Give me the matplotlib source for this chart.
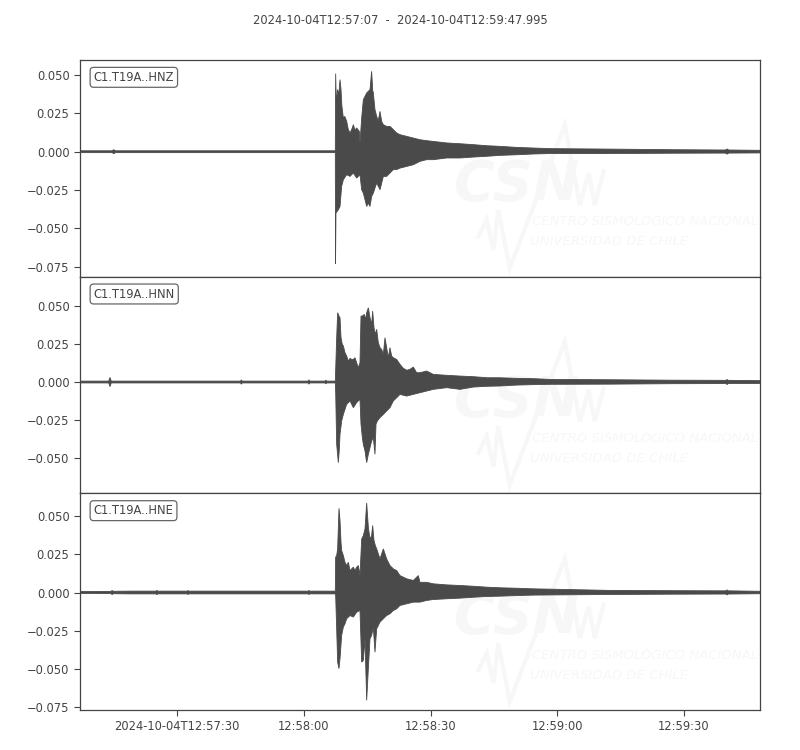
import numpy as np
import matplotlib
matplotlib.use("Agg")
import matplotlib.pyplot as plt
import matplotlib.dates as mdates
from matplotlib.ticker import MultipleLocator, FixedLocator, FixedFormatter

# ---------------- data ----------------
start_str = "2024-10-04T12:57:07"
end_str = "2024-10-04T12:59:47.995"
channels = ["C1.T19A..HNZ", "C1.T19A..HNN", "C1.T19A..HNE"]

tick_times = ["2024-10-04T12:57:30", "2024-10-04T12:58:00", "2024-10-04T12:58:30",
              "2024-10-04T12:59:00", "2024-10-04T12:59:30"]
tick_labels = ["2024-10-04T12:57:30", "12:58:00", "12:58:30", "12:59:00", "12:59:30"]

# envelopes: (seconds after start, amplitude)
hnz_upper = [(0, 0.0006), (7.6, 0.0006), (8.0, 0.0013), (8.4, 0.0006), (60.45, 0.0006),
             (60.53, 0.0509), (60.70, 0.0300), (60.95, 0.0405), (61.3, 0.0380), (61.56, 0.0470),
             (61.8, 0.0405), (62.0, 0.0300), (62.35, 0.0220), (62.7, 0.0230), (63.14, 0.0198),
             (63.53, 0.0144), (63.93, 0.0122), (64.4, 0.0150), (64.72, 0.0176), (65.1, 0.0140),
             (65.50, 0.0155), (66.13, 0.0133), (66.29, 0.0057), (66.69, 0.0220), (67.08, 0.0339),
             (67.48, 0.0361), (67.87, 0.0383), (68.27, 0.0394), (68.66, 0.0405), (69.05, 0.0524),
             (69.3, 0.0400), (69.45, 0.0383), (69.84, 0.0274), (70.24, 0.0231), (70.6, 0.0200),
             (71.03, 0.0263), (71.42, 0.0198), (71.82, 0.0176), (72.60, 0.0165), (73.39, 0.0165),
             (74.18, 0.0144), (74.97, 0.0122), (75.76, 0.0111), (77.34, 0.0100), (78.92, 0.0089),
             (80.49, 0.0078), (82.07, 0.0072), (83.65, 0.0067), (86.81, 0.0057), (89.96, 0.0052),
             (93.12, 0.0046), (96.27, 0.0039), (99.43, 0.0035), (103.38, 0.0028), (107.32, 0.0024),
             (111.27, 0.0020), (124.8, 0.0017), (140.4, 0.0013), (152.8, 0.0011), (153.2, 0.0018),
             (153.6, 0.0011), (161.0, 0.0009)]
hnz_lower = [(0, -0.0006), (7.6, -0.0006), (8.0, -0.0013), (8.4, -0.0006), (60.45, -0.0006),
             (60.50, -0.0731), (60.60, -0.0400), (61.16, -0.0379), (61.56, -0.0357), (61.95, -0.0226),
             (62.35, -0.0183), (63.14, -0.0150), (63.93, -0.0161), (64.72, -0.0139), (65.50, -0.0172),
             (66.29, -0.0150), (66.69, -0.0248), (67.08, -0.0270), (67.48, -0.0313), (67.87, -0.0357),
             (68.27, -0.0335), (68.66, -0.0357), (69.05, -0.0292), (69.45, -0.0270), (70.24, -0.0204),
             (71.03, -0.0248), (71.82, -0.0161), (72.60, -0.0161), (73.39, -0.0139), (74.18, -0.0117),
             (74.97, -0.0117), (75.76, -0.0107), (77.34, -0.0096), (78.92, -0.0085), (80.49, -0.0063),
             (82.07, -0.0052), (83.65, -0.0052), (86.81, -0.0041), (89.96, -0.0041), (93.12, -0.0035),
             (96.27, -0.0030), (99.43, -0.0024), (103.38, -0.0020), (107.32, -0.0015), (111.27, -0.0012),
             (124.8, -0.0012), (140.4, -0.0010), (152.8, -0.0009), (153.2, -0.0016), (153.6, -0.0009),
             (161.0, -0.0008)]

hnn_upper = [(0, 0.0006), (6.8, 0.0006), (7.1, 0.0030), (7.4, 0.0006), (38.0, 0.0006), (38.2, 0.0014),
             (38.4, 0.0006), (54.0, 0.0006), (54.2, 0.0014), (54.4, 0.0006), (58.0, 0.0006), (58.2, 0.0012),
             (58.4, 0.0006), (60.45, 0.0006),
             (60.77, 0.0290), (61.0, 0.0454), (61.32, 0.0432), (61.56, 0.0421), (61.8, 0.0290),
             (62.1, 0.0247), (62.35, 0.0236), (62.74, 0.0192), (63.14, 0.0170), (63.53, 0.0137),
             (63.93, 0.0155), (64.32, 0.0148), (64.72, 0.0148), (65.11, 0.0159), (65.50, 0.0126),
             (65.90, 0.0094), (66.29, 0.0126), (66.53, 0.0432), (66.85, 0.0432), (67.32, 0.0443),
             (67.63, 0.0410), (67.87, 0.0454), (68.27, 0.0486), (68.66, 0.0421), (69.05, 0.0377),
             (69.29, 0.0465), (69.61, 0.0356), (69.92, 0.0312), (70.24, 0.0345), (70.63, 0.0257),
             (71.03, 0.0225), (71.42, 0.0214), (71.82, 0.0181), (72.21, 0.0290), (72.60, 0.0225),
             (73.0, 0.0159), (73.39, 0.0225), (73.79, 0.0170), (74.18, 0.0159), (74.97, 0.0148),
             (75.76, 0.0116), (76.55, 0.0090), (77.34, 0.0077), (78.13, 0.0083), (78.92, 0.0098),
             (79.7, 0.0061), (80.49, 0.0061), (82.07, 0.0072), (83.65, 0.0050), (86.81, 0.0044),
             (89.96, 0.0039), (93.12, 0.0035), (96.27, 0.0028), (99.43, 0.0028), (103.38, 0.0024),
             (107.32, 0.0022), (111.27, 0.0017), (125.0, 0.0015), (140.0, 0.0012), (152.9, 0.0011),
             (153.2, 0.0016), (153.5, 0.0011), (161.0, 0.0009)]
hnn_lower = [(0, -0.0006), (6.8, -0.0006), (7.1, -0.0030), (7.4, -0.0006), (38.0, -0.0006), (38.2, -0.0014),
             (38.4, -0.0006), (54.0, -0.0006), (54.2, -0.0014), (54.4, -0.0006), (58.0, -0.0006),
             (58.2, -0.0012), (58.4, -0.0006), (60.45, -0.0006),
             (60.53, -0.0059), (60.77, -0.0408), (61.16, -0.0528), (61.4, -0.0441), (61.56, -0.0343),
             (61.95, -0.0255), (62.35, -0.0212), (62.74, -0.0179), (63.14, -0.0146), (63.93, -0.0124),
             (64.72, -0.0168), (65.50, -0.0135), (66.29, -0.0113), (66.53, -0.0277), (66.85, -0.0364),
             (67.08, -0.0408), (67.48, -0.0452), (67.87, -0.0528), (68.27, -0.0473), (68.66, -0.0430),
             (69.05, -0.0386), (69.45, -0.0364), (69.84, -0.0473), (70.08, -0.0277), (70.4, -0.0255),
             (71.03, -0.0233), (71.82, -0.0212), (72.60, -0.0190), (73.39, -0.0168), (74.18, -0.0124),
             (74.97, -0.0103), (75.76, -0.0081), (77.34, -0.0092), (78.92, -0.0081), (80.49, -0.0070),
             (82.07, -0.0059), (83.65, -0.0048), (86.81, -0.0037), (89.96, -0.0048), (93.12, -0.0033),
             (96.27, -0.0028), (99.43, -0.0026), (103.38, -0.0020), (107.32, -0.0017), (111.27, -0.0015),
             (125.0, -0.0014), (140.0, -0.0011), (152.9, -0.0010), (153.2, -0.0016), (153.5, -0.0010),
             (161.0, -0.0009)]

hne_upper = [(0, 0.0006), (7.3, 0.0007), (7.6, 0.0013), (7.9, 0.0008), (12.0, 0.0009), (18.0, 0.0009),
             (18.2, 0.0014), (18.4, 0.0009), (25.4, 0.0009), (25.6, 0.0013), (25.8, 0.0009),
             (54.0, 0.0009), (54.2, 0.0013), (54.4, 0.0009), (60.45, 0.0009),
             (60.53, 0.0231), (60.77, 0.0242), (61.0, 0.0286), (61.32, 0.0552), (61.56, 0.0471),
             (61.8, 0.0329), (61.95, 0.0275), (62.35, 0.0242), (62.74, 0.0198), (63.14, 0.0177),
             (63.53, 0.0198), (63.93, 0.0144), (64.32, 0.0155), (64.72, 0.0166), (65.11, 0.0144),
             (65.50, 0.0166), (65.90, 0.0177), (66.29, 0.0111), (66.69, 0.0351), (67.08, 0.0373),
             (67.48, 0.0417), (67.87, 0.0587), (68.27, 0.0427), (68.66, 0.0351), (69.05, 0.0373),
             (69.29, 0.0439), (69.61, 0.0340), (69.92, 0.0308), (70.24, 0.0286), (70.63, 0.0253),
             (71.03, 0.0221), (71.82, 0.0286), (72.21, 0.0253), (72.60, 0.0221), (73.0, 0.0198),
             (73.39, 0.0177), (74.18, 0.0155), (74.97, 0.0144), (75.76, 0.0111), (77.34, 0.0090),
             (78.92, 0.0079), (80.1, 0.0111), (80.49, 0.0067), (82.07, 0.0067), (83.65, 0.0057),
             (86.81, 0.0050), (89.96, 0.0046), (93.12, 0.0041), (96.27, 0.0035), (99.43, 0.0031),
             (103.38, 0.0028), (107.32, 0.0024), (111.27, 0.0022), (125.0, 0.0014), (140.0, 0.0012),
             (152.9, 0.0011), (153.2, 0.0017), (153.5, 0.0011), (161.0, 0.0008)]
hne_lower = [(0, -0.0006), (7.3, -0.0007), (7.6, -0.0013), (7.9, -0.0008), (12.0, -0.0009), (18.0, -0.0009),
             (18.2, -0.0014), (18.4, -0.0009), (25.4, -0.0009), (25.6, -0.0013), (25.8, -0.0009),
             (54.0, -0.0009), (54.2, -0.0013), (54.4, -0.0009), (60.45, -0.0009),
             (60.53, -0.0020), (60.77, -0.0238), (61.0, -0.0456), (61.32, -0.0499), (61.56, -0.0434),
             (61.95, -0.0281), (62.35, -0.0227), (62.74, -0.0205), (63.14, -0.0172), (63.93, -0.0151),
             (64.72, -0.0161), (65.50, -0.0129), (66.29, -0.0118), (66.69, -0.0456), (67.08, -0.0445),
             (67.48, -0.0303), (67.87, -0.0707), (68.27, -0.0499), (68.66, -0.0303), (69.05, -0.0281),
             (69.45, -0.0227), (69.84, -0.0391), (70.24, -0.0238), (71.03, -0.0194), (71.82, -0.0172),
             (72.60, -0.0151), (73.39, -0.0139), (74.18, -0.0118), (74.97, -0.0107), (75.76, -0.0085),
             (77.34, -0.0074), (78.92, -0.0063), (80.49, -0.0063), (82.07, -0.0052), (83.65, -0.0046),
             (86.81, -0.0041), (89.96, -0.0037), (93.12, -0.0031), (96.27, -0.0026), (99.43, -0.0024),
             (103.38, -0.0020), (107.32, -0.0017), (111.27, -0.0016), (125.0, -0.0013), (140.0, -0.0011),
             (152.9, -0.0010), (153.2, -0.0016), (153.5, -0.0010), (161.0, -0.0008)]

y_limits = [(-0.0815, 0.0598), (-0.0729, 0.0690), (-0.0770, 0.0650)]
envelopes = [(hnz_upper, hnz_lower), (hnn_upper, hnn_lower), (hne_upper, hne_lower)]

# ---------------- style ----------------
TRACE = "#4a4a4a"
TEXT = "#444444"
WM = "#f7f7f7"
FS = 8.3

start = np.datetime64(start_str, "ms")
end = np.datetime64(end_str, "ms")


def to_dates(sec):
    sec = np.asarray(sec, dtype=float)
    return mdates.date2num(start + (sec * 1000).round().astype("timedelta64[ms]"))


fig = plt.figure(figsize=(8, 7.5), dpi=100)
top, bottom = 1 - 60 / 750, 1 - 710 / 750
left, right = 80 / 800, 760 / 800
h = (top - bottom) / 3

wm_line_x = [0.586, 0.598, 0.608, 0.615, 0.632, 0.713, 0.735, 0.748, 0.757, 0.770]
wm_line_y = [0.186, 0.263, 0.124, 0.309, 0.040, 0.700, 0.332, 0.478, 0.332, 0.486]

axes = []
for i, (name, (up, lo), yl) in enumerate(zip(channels, envelopes, y_limits)):
    ax = fig.add_axes([left, top - (i + 1) * h, right - left, h], sharex=axes[0] if axes else None)
    axes.append(ax)
    # faint watermark
    ax.plot(wm_line_x, wm_line_y, color=WM, lw=3.0, transform=ax.transAxes, zorder=0,
            solid_joinstyle="miter")
    ax.text(0.550, 0.424, "CSN", transform=ax.transAxes, fontsize=40, fontweight="bold",
            fontstyle="italic", color=WM, va="center", ha="left", zorder=0)
    ax.text(0.665, 0.253, "CENTRO SISMOLÓGICO NACIONAL", transform=ax.transAxes, fontsize=9.5,
            fontstyle="italic", color=WM, va="center", ha="left", zorder=0)
    ax.text(0.662, 0.161, "UNIVERSIDAD DE CHILE", transform=ax.transAxes, fontsize=9.5,
            fontstyle="italic", color=WM, va="center", ha="left", zorder=0)

    ut = [p[0] for p in up]
    uv = [p[1] for p in up]
    lt = [p[0] for p in lo]
    lv = [p[1] for p in lo]
    xs = np.concatenate([to_dates(ut), to_dates(lt)[::-1]])
    ys = np.concatenate([uv, lv[::-1]])
    ax.fill(xs, ys, facecolor=TRACE, edgecolor=TRACE, lw=0.6, zorder=2)

    ax.set_ylim(*yl)
    ax.yaxis.set_major_locator(MultipleLocator(0.025))
    ax.tick_params(axis="both", labelsize=FS, colors=TEXT, length=4, width=0.8)
    for s in ax.spines.values():
        s.set_color(TEXT)
        s.set_linewidth(0.9)
    ax.text(0.02, 0.92, name, transform=ax.transAxes, fontsize=FS, color=TEXT, va="center",
            ha="left", bbox=dict(boxstyle="round,pad=0.3", fc="white", ec="#666666", lw=0.9),
            zorder=5)
    if i < 2:
        ax.tick_params(axis="x", which="both", bottom=False, labelbottom=False)

axes[0].set_xlim(mdates.date2num(start), mdates.date2num(end))
tick_pos = [mdates.date2num(np.datetime64(t, "ms")) for t in tick_times]
axes[-1].xaxis.set_major_locator(FixedLocator(tick_pos))
axes[-1].xaxis.set_major_formatter(FixedFormatter(tick_labels))

fig.text(0.5, 1 - 20 / 750, f"{start_str}  -  {end_str}", ha="center", va="center",
         fontsize=FS, color=TEXT)

fig.savefig("out.png", dpi=100, facecolor="white")
